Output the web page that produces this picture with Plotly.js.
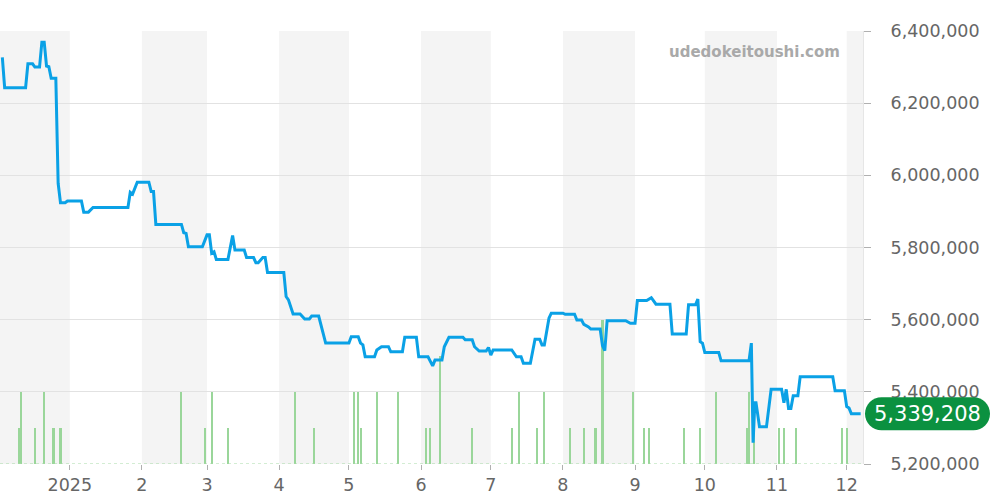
<!DOCTYPE html>
<html>
<head>
<meta charset="utf-8">
<script src="https://cdn.plot.ly/plotly-3.0.1.min.js"></script>
<style>
html,body{margin:0;padding:0;background:#fff;}
#chart{width:1000px;height:500px;}
</style>
</head>
<body>
<div id="chart"></div>
<script>
// ---- data ----
var priceDates = [
'2024-12-03','2024-12-04','2024-12-13','2024-12-14','2024-12-16','2024-12-17','2024-12-19','2024-12-20','2024-12-21','2024-12-22',
'2024-12-23','2024-12-24','2024-12-26','2024-12-27','2024-12-28','2024-12-30','2024-12-31','2025-01-06','2025-01-07','2025-01-09',
'2025-01-11','2025-01-26','2025-01-27','2025-01-28','2025-01-30','2025-02-04','2025-02-05','2025-02-06','2025-02-07','2025-02-18',
'2025-02-19','2025-02-20','2025-02-21','2025-02-27','2025-03-01','2025-03-02','2025-03-03','2025-03-04','2025-03-05','2025-03-10',
'2025-03-12','2025-03-13','2025-03-17','2025-03-18','2025-03-21','2025-03-22','2025-03-23','2025-03-25','2025-03-26','2025-03-27',
'2025-04-03','2025-04-04','2025-04-05','2025-04-07','2025-04-10','2025-04-12','2025-04-14','2025-04-15','2025-04-18','2025-04-19',
'2025-04-21','2025-05-01','2025-05-02','2025-05-05','2025-05-06','2025-05-07','2025-05-08','2025-05-12','2025-05-13','2025-05-15',
'2025-05-18','2025-05-19','2025-05-24','2025-05-25','2025-05-30','2025-05-31','2025-06-04','2025-06-06','2025-06-07','2025-06-10',
'2025-06-11','2025-06-13','2025-06-19','2025-06-20','2025-06-23','2025-06-24','2025-06-26','2025-06-29','2025-06-30','2025-07-01',
'2025-07-02','2025-07-10','2025-07-12','2025-07-14','2025-07-15','2025-07-18','2025-07-20','2025-07-22','2025-07-23','2025-07-24',
'2025-07-26','2025-07-27','2025-08-01','2025-08-02','2025-08-06','2025-08-07','2025-08-09','2025-08-10','2025-08-12','2025-08-13',
'2025-08-17','2025-08-18','2025-08-19','2025-08-20','2025-08-28','2025-08-30','2025-09-01','2025-09-02','2025-09-06','2025-09-08',
'2025-09-09','2025-09-10','2025-09-16','2025-09-17','2025-09-23','2025-09-24','2025-09-27','2025-09-28','2025-09-29','2025-09-30',
'2025-10-01','2025-10-07','2025-10-08','2025-10-20','2025-10-21','2025-10-21 18:00','2025-10-22 12:00','2025-10-23','2025-10-24 12:00','2025-10-27 12:00',
'2025-10-29 12:00','2025-11-03','2025-11-04','2025-11-05','2025-11-06','2025-11-07','2025-11-08','2025-11-10','2025-11-11','2025-11-25',
'2025-11-26','2025-11-30','2025-12-01','2025-12-02','2025-12-03','2025-12-07'
];
var priceValues = [
6327000,6243000,6243000,6309000,6309000,6300000,6300000,6369000,6369000,6303000,
6301000,6269000,6269000,5978000,5924000,5924000,5929000,5929000,5898000,5898000,
5911000,5911000,5953000,5948000,5981000,5981000,5955000,5955000,5864000,5864000,
5841000,5839000,5802000,5802000,5835000,5835000,5784000,5788000,5767000,5767000,
5833000,5793000,5793000,5772000,5772000,5758000,5758000,5772000,5772000,5731000,
5731000,5664000,5655000,5616000,5616000,5602000,5602000,5610000,5610000,5583000,
5535000,5535000,5553000,5553000,5535000,5530000,5497000,5497000,5516000,5525000,
5525000,5511000,5511000,5551000,5551000,5497000,5497000,5472000,5488000,5488000,
5525000,5551000,5551000,5544000,5544000,5525000,5513000,5513000,5523000,5502000,
5516000,5516000,5497000,5497000,5479000,5479000,5546000,5546000,5530000,5530000,
5604000,5618000,5618000,5615000,5615000,5599000,5599000,5587000,5580000,5574000,
5574000,5528000,5514000,5597000,5597000,5590000,5590000,5653000,5653000,5661000,
5653000,5643000,5643000,5560000,5560000,5641000,5641000,5657000,5539000,5535000,
5509000,5509000,5486000,5486000,5535000,5259000,5370000,5370000,5303000,5303000,
5407000,5407000,5370000,5407000,5354000,5354000,5389000,5389000,5442000,5442000,
5403000,5403000,5359000,5355000,5339208,5339208
];
var volumeDates = [
'2024-12-10','2024-12-11','2024-12-17','2024-12-21','2024-12-25','2024-12-28',
'2025-02-18','2025-02-28','2025-03-03','2025-03-10','2025-04-08','2025-04-16',
'2025-05-03','2025-05-05','2025-05-06','2025-05-13','2025-05-22',
'2025-06-03','2025-06-05','2025-06-09','2025-06-23',
'2025-07-10','2025-07-13','2025-07-21','2025-07-24',
'2025-08-04','2025-08-10','2025-08-15','2025-08-18','2025-08-31',
'2025-09-05','2025-09-07','2025-09-22','2025-09-29',
'2025-10-06','2025-10-19','2025-10-20','2025-10-22',
'2025-11-02','2025-11-04','2025-11-09','2025-11-29','2025-12-01'
];
var volumeValues = [
1,2,1,2,1,1,
2,1,2,1,2,1,
2,2,1,2,2,
1,1,3,1,
1,2,1,2,
1,1,1,4,2,
1,1,1,1,
2,1,2,1,
1,1,1,1,1
];
var monthTicks = ['2025-01-01','2025-02-01','2025-03-01','2025-04-01','2025-05-01','2025-06-01','2025-07-01','2025-08-01','2025-09-01','2025-10-01','2025-11-01','2025-12-01'];
var monthLabels = ['2025','2','3','4','5','6','7','8','9','10','11','12'];
var bandStarts = ['2024-12-01','2025-02-01','2025-04-01','2025-06-01','2025-08-01','2025-10-01','2025-12-01'];
var bandEnds   = ['2025-01-01','2025-03-01','2025-05-01','2025-07-01','2025-09-01','2025-11-01','2026-01-01'];
var watermark = 'udedokeitoushi.com';

// ---- chart ----
var FONT = 'DejaVu Sans, sans-serif';
var lastValue = priceValues[priceValues.length - 1];
var lastText = lastValue.toLocaleString('en-US');
var DAY = 86400000;

var shapes = [];
for (var i = 0; i < bandStarts.length; i++) {
  shapes.push({type:'rect', xref:'x', yref:'paper', x0:bandStarts[i], x1:bandEnds[i], y0:0, y1:1,
    fillcolor:'#f4f4f4', line:{width:0}, layer:'below'});
}
shapes.push({type:'line', xref:'paper', yref:'y', x0:0, x1:1, y0:0, y1:0,
  line:{color:'#a6daa6', width:1, dash:'dot'}, layer:'above'});
var r = 16.5, k = 0.5523 * r, L = 2, R = 127;
var pill = 'M ' + (L + r) + ',' + r + ' L ' + (R - r) + ',' + r +
  ' C ' + (R - r + k) + ',' + r + ' ' + R + ',' + k + ' ' + R + ',0' +
  ' C ' + R + ',' + (-k) + ' ' + (R - r + k) + ',' + (-r) + ' ' + (R - r) + ',' + (-r) +
  ' L ' + (L + r) + ',' + (-r) +
  ' C ' + (L + r - k) + ',' + (-r) + ' ' + L + ',' + (-k) + ' ' + L + ',0' +
  ' C ' + L + ',' + k + ' ' + (L + r - k) + ',' + r + ' ' + (L + r) + ',' + r + ' Z';
shapes.push({type:'path', xref:'paper', yref:'y2', xsizemode:'pixel', ysizemode:'pixel',
  xanchor:1, yanchor:lastValue, path:pill, fillcolor:'#0b9140', line:{width:0}, layer:'above'});

var traces = [
  {type:'bar', x:volumeDates, y:volumeValues, yaxis:'y', width:0.88*DAY,
   marker:{color:'#9ad69a', line:{width:0}}, hoverinfo:'skip', showlegend:false},
  {type:'scatter', mode:'lines', x:priceDates, y:priceValues, yaxis:'y2',
   line:{color:'#0aa1e6', width:3}, showlegend:false}
];

var layout = {
  width:1000, height:500,
  margin:{l:0, r:137, t:31, b:36, pad:0},
  paper_bgcolor:'#ffffff', plot_bgcolor:'rgba(0,0,0,0)',
  showlegend:false,
  font:{family:FONT, color:'#666'},
  bargap:0,
  xaxis:{type:'date', range:['2024-12-02','2025-12-08'], tickmode:'array',
    tickvals:monthTicks, ticktext:monthLabels, ticks:'outside', ticklen:5, tickcolor:'#b0b0b0',
    showgrid:false, zeroline:false, showline:false,
    tickfont:{family:FONT, size:17.5, color:'#666'}},
  yaxis:{range:[0,12], visible:false, showgrid:false, zeroline:false},
  yaxis2:{overlaying:'y', side:'right', range:[5200000,6400000], dtick:200000, tickformat:',d',
    showgrid:true, gridcolor:'#e2e2e2', gridwidth:1, zeroline:false,
    ticks:'outside', ticklen:7, tickcolor:'#b0b0b0',
    showline:true, linecolor:'#e6e6e6', linewidth:1,
    ticklabelstandoff:16,
    tickfont:{family:FONT, size:17.5, color:'#666'}},
  shapes:shapes,
  annotations:[
    {xref:'paper', yref:'paper', x:842/863, y:(464-52)/433, xanchor:'right', yanchor:'middle',
     text:watermark, showarrow:false, font:{family:FONT, size:15, color:'#a9a9a9', weight:'bold'}},
    {xref:'paper', yref:'y2', x:1, y:lastValue, xshift:64.5, xanchor:'center', yanchor:'middle',
     text:lastText, showarrow:false, font:{family:FONT, size:21, color:'#ffffff'}}
  ]
};

Plotly.newPlot('chart', traces, layout, {displayModeBar:false, staticPlot:true});
</script>
</body>
</html>
